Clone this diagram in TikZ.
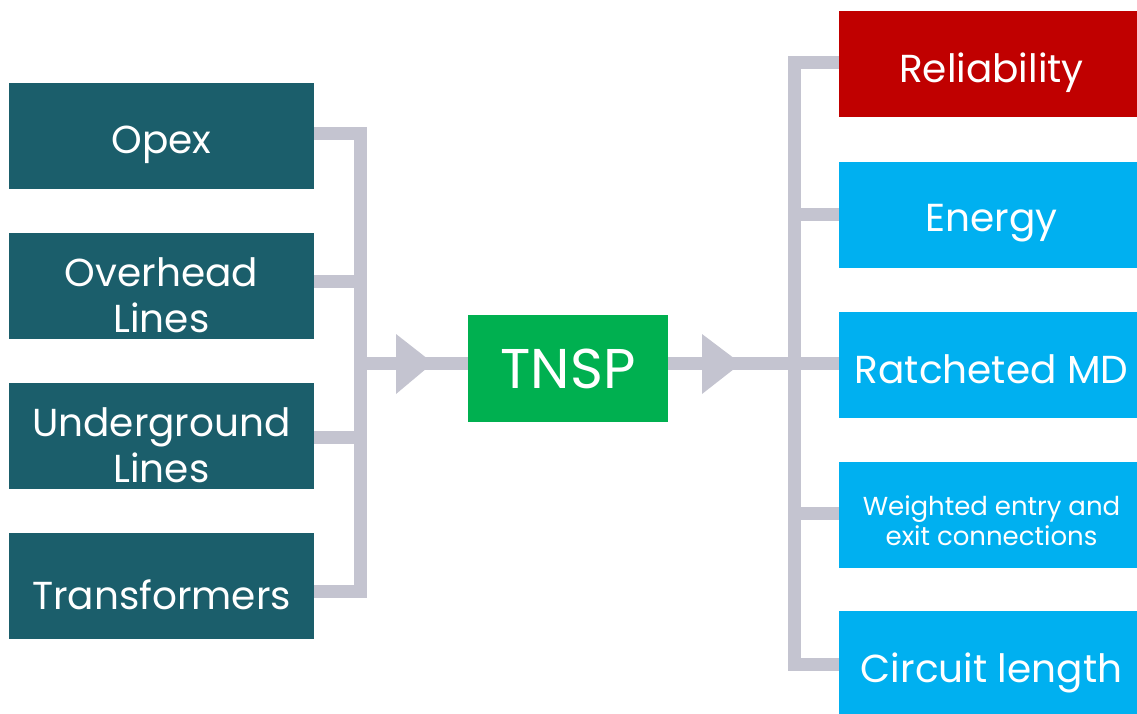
\documentclass[tikz,border=0pt]{standalone}
\usepackage{fontspec}
\setmainfont{Poppins}
\definecolor{inputteal}{RGB}{27,94,107}
\definecolor{coregreen}{RGB}{0,176,80}
\definecolor{outblue}{RGB}{0,176,240}
\definecolor{outred}{RGB}{192,0,0}
\definecolor{linkgray}{RGB}{196,196,208}
\begin{document}
\begin{tikzpicture}[x=1pt,y=-1pt,
  boxbase/.style={rectangle, minimum width=305pt, minimum height=106pt,
    inner sep=0pt},
  boxtext/.style={text=white, align=center, yshift=-9pt,
    font=\fontsize{39}{46}\selectfont},
  txt/.style={label={[boxtext]center:#1}},
  hightxt/.style={label={[boxtext, yshift=5pt]center:#1}},
  smalltxt/.style={label={[boxtext, yshift=3pt, font=\fontsize{26}{30}\selectfont]center:#1}},
  inbox/.style={boxbase, fill=inputteal},
  outbox/.style={boxbase, fill=outblue},
  corebox/.style={rectangle, fill=coregreen, minimum width=200pt,
    minimum height=107pt, inner sep=0pt, text=white,
    font=\fontsize{56}{60}\selectfont},
  link/.style={draw=linkgray, line width=13pt, line join=miter},
  headtri/.style={fill=linkgray}]
\useasboundingbox (0,0) rectangle (1137,713);
\clip (0,0) rectangle (1137,713);

% collector bar on the input side
\coordinate (lbar) at (360,363);
% distribution bar on the output side
\coordinate (rbar) at (794,363.5);

% input boxes
\node[inbox, txt=Opex]                  (opex) at (161.5,136) {};
\node[inbox, txt={Overhead\\Lines}]     (ohl)  at (161.5,286) {};
\node[inbox, txt={Underground\\Lines}]  (ugl)  at (161.5,436) {};
\node[inbox, txt=Transformers]          (trf)  at (161.5,586) {};

% central box
\node[corebox] (tnsp) at (568,368.5) {TNSP};

% output boxes
\node[outbox, fill=outred, txt=Reliability] (rel) at (991.5,64) {};
\node[outbox, txt=Energy]                   (en)  at (991.5,214.5) {};
\node[outbox, hightxt={Ratcheted MD}]       (md)  at (991.5,365) {};
\node[outbox, smalltxt={Weighted entry and\\exit connections}] (wec) at (991.5,514.5) {};
\node[outbox, txt={Circuit length}]         (cl)  at (991.5,664) {};

% input side connectors
\draw[link] (opex.east |- {0,133}) -| (lbar |- {0,591}) -- (trf.east |- {0,591});
\draw[link] (ohl.east |- {0,281}) -- (lbar |- {0,281});
\draw[link] (ugl.east |- {0,437}) -- (lbar |- {0,437});
\draw[link] (lbar) -- (tnsp.west |- lbar);
\fill[headtri] (396,334) -- (433,363) -- (396,394) -- cycle;

% output side connectors
\draw[link] (tnsp.east |- rbar) -- (rbar);
\fill[headtri] (702,334) -- (741,363.5) -- (702,394) -- cycle;
\draw[link] (rel.west |- {0,62.5}) -| (rbar |- {0,664}) -- (cl.west |- {0,664});
\draw[link] (en.west |- {0,214.5}) -- (rbar |- {0,214.5});
\draw[link] (md.west |- rbar) -- (rbar);
\draw[link] (wec.west |- {0,513}) -- (rbar |- {0,513});
\end{tikzpicture}
\end{document}
